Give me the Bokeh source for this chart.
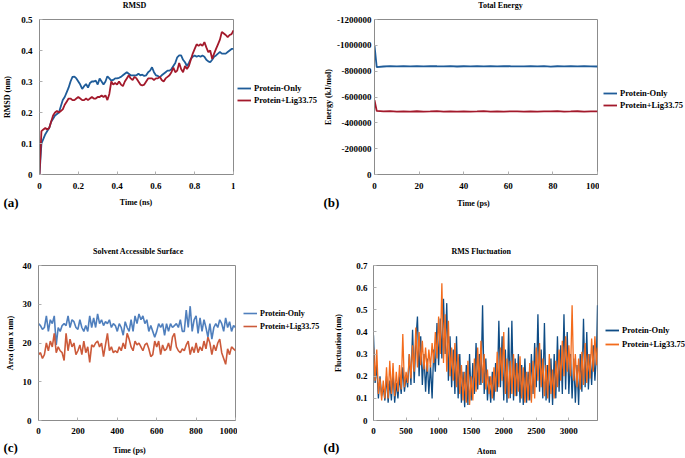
from bokeh.plotting import figure
from bokeh.layouts import column, row
from bokeh.models import Range1d, FixedTicker, Legend, LegendItem, Label
from bokeh.embed import file_html
from bokeh.resources import INLINE

FONT = "Liberation Serif"

# ---------------- (a) RMSD ----------------
rmsd_time = [i / 100 for i in range(101)]
rmsd_protein = [
    0.0, 0.10, 0.115, 0.13, 0.14, 0.15, 0.17, 0.18, 0.19, 0.195,
    0.20, 0.22, 0.24, 0.25, 0.265, 0.28, 0.30, 0.315, 0.316, 0.31,
    0.30, 0.29, 0.276, 0.285, 0.292, 0.28, 0.295, 0.30, 0.30, 0.303,
    0.29, 0.31, 0.30, 0.29, 0.30, 0.317, 0.31, 0.303, 0.305, 0.31,
    0.31, 0.312, 0.315, 0.32, 0.325, 0.33, 0.325, 0.32, 0.32, 0.32,
    0.32, 0.325, 0.32, 0.322, 0.318, 0.32, 0.33, 0.335, 0.346, 0.33,
    0.32, 0.318, 0.314, 0.32, 0.325, 0.33, 0.335, 0.335, 0.34, 0.35,
    0.36, 0.378, 0.384, 0.384, 0.37, 0.362, 0.35, 0.36, 0.373, 0.38,
    0.384, 0.38, 0.383, 0.38, 0.384, 0.38, 0.37, 0.365, 0.362, 0.37,
    0.38, 0.384, 0.39, 0.395, 0.39, 0.39, 0.39, 0.395, 0.40, 0.405,
    0.405]
rmsd_ligand = [
    0.0, 0.14, 0.145, 0.15, 0.145, 0.15, 0.17, 0.19, 0.20, 0.205,
    0.20, 0.205, 0.21, 0.225, 0.235, 0.245, 0.245, 0.24, 0.24, 0.245,
    0.25, 0.245, 0.24, 0.24, 0.245, 0.24, 0.245, 0.25, 0.245, 0.245,
    0.25, 0.25, 0.255, 0.25, 0.255, 0.24, 0.26, 0.30, 0.29, 0.295,
    0.29, 0.30, 0.29, 0.285, 0.30, 0.31, 0.32, 0.31, 0.305, 0.315,
    0.31, 0.30, 0.29, 0.287, 0.29, 0.30, 0.31, 0.31, 0.31, 0.305,
    0.31, 0.31, 0.315, 0.305, 0.30, 0.31, 0.315, 0.32, 0.33, 0.345,
    0.33, 0.335, 0.36, 0.34, 0.33, 0.35, 0.34, 0.35, 0.37, 0.39,
    0.405, 0.42, 0.415, 0.42, 0.415, 0.427, 0.41, 0.395, 0.40, 0.373,
    0.39, 0.405, 0.42, 0.435, 0.46, 0.455, 0.45, 0.443, 0.45, 0.453,
    0.465]
rmsd_xticks = [0, 0.2, 0.4, 0.6, 0.8, 1]
rmsd_xlabels = ["0", "0.2", "0.4", "0.6", "0.8", "1"]
rmsd_yticks = [0, 0.1, 0.2, 0.3, 0.4, 0.5]
rmsd_ylabels = ["0", "0.1", "0.2", "0.3", "0.4", "0.5"]

# ---------------- (b) Total Energy ----------------
energy_time = [0, 1, 4, 7, 10, 13, 16, 19, 22, 25, 28, 31, 34, 37, 40, 43, 46, 49,
               52, 55, 58, 61, 64, 67, 70, 73, 76, 79, 82, 85, 88, 91, 94, 97, 100]
energy_protein = [-998000, -832000, -836000, -839000, -837000, -838500, -836500, -838000,
                  -837000, -839500, -838000, -837000, -838500, -836000, -838000, -837500,
                  -839000, -836500, -838000, -837000, -839000, -838000, -837500, -836500,
                  -838500, -837000, -839000, -835500, -838000, -837500, -839000, -837000,
                  -838500, -837000, -836000]
energy_ligand = [-575000, -492000, -488000, -490000, -486000, -488500, -487000, -489500,
                 -487500, -488000, -490000, -487000, -488500, -486500, -489000, -487500,
                 -488000, -490000, -487000, -488500, -487500, -489000, -488000, -486500,
                 -488500, -487000, -489000, -488000, -490000, -487500, -488000, -489500,
                 -487000, -488500, -488000]
energy_xticks = [0, 20, 40, 60, 80, 100]
energy_yticks = [0, -200000, -400000, -600000, -800000, -1000000, -1200000]
energy_ylabels = ["0", "-200000", "-400000", "-600000", "-800000", "-1000000", "-1200000"]

# ---------------- (c) Solvent Accessible Surface ----------------
sas_time = [10 * i for i in range(101)]
sas_protein = [
    25, 24.5, 23.5, 24, 27, 23, 26, 25, 27, 19.5,
    24, 23, 24.5, 25, 24.5, 27, 24, 26, 25.5, 24,
    23.5, 26, 24, 23, 24.5, 23, 27, 24, 26.5, 24,
    27.5, 25, 26, 24.5, 25.5, 25, 26, 24, 25, 24.5,
    23, 25, 24, 22, 25.5, 24, 23, 26, 23, 27,
    25, 27.5, 26, 27, 25, 26, 23, 24.5, 23, 21.5,
    23, 25, 24, 25, 22, 25, 23, 25, 24, 24.5,
    25, 24, 26, 23, 23, 28.5, 24, 29.5, 23, 26,
    27, 22.5, 26.5, 23, 26, 24, 21.5, 25, 21, 24,
    25, 24, 26, 25, 23, 26.5, 24, 25.5, 23, 24.5,
    24]
sas_ligand = [
    17, 17.5, 16, 17, 20, 18, 20.5, 19, 22.5, 17.5,
    19, 18, 17.5, 15.5, 22.5, 18, 21, 19, 20, 17,
    18, 19.5, 17, 20.5, 17.5, 19, 15, 19.5, 19, 20,
    20.5, 19, 20, 16.5, 19.5, 22.5, 18, 19, 17.5, 18,
    17.5, 19, 18, 20, 18.5, 22.5, 21, 19, 18, 20.5,
    19.5, 20, 19, 18, 19.5, 20, 18.5, 16.5, 17, 20.5,
    19, 20.5, 17, 19.5, 18, 18.5, 20, 18, 21.5, 22.5,
    19, 18, 17.5, 18.5, 18, 19.5, 20.5, 17, 19, 17.5,
    20, 17.5, 19, 18, 20.5, 18.5, 21.5, 20, 17, 19.5,
    18, 20, 21, 17.5, 16, 14.5, 18.5, 17, 19, 18.5,
    18]
sas_xticks = [0, 200, 400, 600, 800, 1000]
sas_yticks = [0, 10, 20, 30, 40]

# ---------------- (d) RMS Fluctuation ----------------
rmsf_atom = list(range(0, 3450, 25)) + [3440]
rmsf_protein = [
    0.385, 0.17, 0.25, 0.10, 0.20, 0.11, 0.15, 0.09, 0.20, 0.08,
    0.18, 0.09, 0.22, 0.08, 0.17, 0.10, 0.20, 0.12, 0.24, 0.13,
    0.20, 0.15, 0.30, 0.16, 0.41, 0.17, 0.36, 0.47, 0.20, 0.38,
    0.16, 0.30, 0.13, 0.28, 0.12, 0.25, 0.10, 0.32, 0.22, 0.44,
    0.25, 0.46, 0.28, 0.55, 0.30, 0.53, 0.18, 0.38, 0.15, 0.32,
    0.12, 0.38, 0.10, 0.30, 0.08, 0.22, 0.06, 0.25, 0.07, 0.30,
    0.09, 0.26, 0.12, 0.35, 0.14, 0.30, 0.16, 0.52, 0.12, 0.28,
    0.09, 0.20, 0.08, 0.22, 0.09, 0.26, 0.13, 0.45, 0.15, 0.38,
    0.09, 0.32, 0.08, 0.42, 0.10, 0.45, 0.09, 0.28, 0.11, 0.30,
    0.08, 0.25, 0.07, 0.28, 0.08, 0.22, 0.09, 0.30, 0.12, 0.35,
    0.15, 0.48, 0.13, 0.32, 0.10, 0.44, 0.09, 0.25, 0.08, 0.28,
    0.07, 0.30, 0.10, 0.38, 0.13, 0.34, 0.12, 0.48, 0.14, 0.40,
    0.12, 0.30, 0.10, 0.28, 0.08, 0.25, 0.07, 0.30, 0.13, 0.46,
    0.15, 0.40, 0.14, 0.30, 0.16, 0.34, 0.18, 0.30, 0.52]
rmsf_ligand = [
    0.33, 0.18, 0.32, 0.12, 0.19, 0.09, 0.18, 0.10, 0.24, 0.10,
    0.27, 0.12, 0.26, 0.11, 0.22, 0.13, 0.25, 0.14, 0.39, 0.15,
    0.22, 0.17, 0.30, 0.19, 0.34, 0.22, 0.42, 0.24, 0.40, 0.25,
    0.36, 0.23, 0.33, 0.22, 0.32, 0.24, 0.35, 0.26, 0.40, 0.28,
    0.47, 0.30, 0.62, 0.26, 0.48, 0.22, 0.45, 0.20, 0.33, 0.18,
    0.35, 0.15, 0.30, 0.12, 0.25, 0.09, 0.22, 0.08, 0.27, 0.07,
    0.20, 0.09, 0.28, 0.13, 0.33, 0.16, 0.36, 0.17, 0.30, 0.14,
    0.23, 0.12, 0.20, 0.10, 0.24, 0.13, 0.31, 0.15, 0.33, 0.18,
    0.40, 0.12, 0.28, 0.10, 0.27, 0.12, 0.30, 0.11, 0.26, 0.13,
    0.29, 0.10, 0.24, 0.08, 0.22, 0.09, 0.26, 0.08, 0.27, 0.10,
    0.33, 0.18, 0.35, 0.15, 0.28, 0.11, 0.25, 0.10, 0.30, 0.12,
    0.23, 0.10, 0.27, 0.15, 0.32, 0.18, 0.36, 0.20, 0.38, 0.22,
    0.34, 0.20, 0.52, 0.18, 0.30, 0.15, 0.28, 0.14, 0.31, 0.16,
    0.35, 0.17, 0.30, 0.19, 0.37, 0.22, 0.38, 0.25, 0.33]
rmsf_xticks = [0, 500, 1000, 1500, 2000, 2500, 3000]
rmsf_yticks = [0, 0.1, 0.2, 0.3, 0.4, 0.5, 0.6, 0.7]
rmsf_ylabels = ["0", "0.1", "0.2", "0.3", "0.4", "0.5", "0.6", "0.7"]

series_names = ["Protein-Only", "Protein+Lig33.75"]
panel_titles = ["RMSD", "Total Energy", "Solvent Accessible Surface", "RMS Fluctuation"]
x_titles = ["Time (ns)", "Time  (ps)", "Time (ps)", "Atom"]
panel_tags = ["(a)", "(b)", "(c)", "(d)"]

COL_DARKBLUE, COL_DARKRED = "#1f5c99", "#a3192b"
COL_BLUE, COL_RED = "#4f7fbd", "#cc5a3a"
COL_NAVY, COL_ORANGE = "#0e4c85", "#f36b1c"

ROW_H = 182


def make_fig(width, left, frame_w, xr, yr):
    p = figure(width=width, height=ROW_H, min_border_left=left,
               min_border_right=width - left - frame_w, min_border_top=7, min_border_bottom=20,
               x_range=xr, y_range=yr, output_backend="svg", toolbar_location=None,
               tools="", title=None)
    p.grid.visible = False
    p.outline_line_color = "#8c8c8c"
    p.outline_line_width = 1
    p.background_fill_color = "white"
    p.border_fill_color = "white"
    for ax in (p.xaxis[0], p.yaxis[0]):
        ax.axis_line_color = "#8c8c8c"
        ax.major_tick_in = 3
        ax.major_tick_out = 0
        ax.minor_tick_in = 0
        ax.minor_tick_out = 0
        ax.major_tick_line_color = "#b0b0b0"
        ax.major_label_text_font = FONT
        ax.major_label_text_font_style = "bold"
        ax.major_label_text_font_size = "9px"
        ax.major_label_text_color = "black"
        ax.axis_label_text_font = FONT
        ax.axis_label_text_font_style = "bold"
        ax.axis_label_text_font_size = "8px"
        ax.axis_label_text_color = "black"
    return p


def set_ticks(axis, ticks, labels=None):
    axis.ticker = FixedTicker(ticks=ticks)
    if labels is not None:
        axis.major_label_overrides = {t: l for t, l in zip(ticks, labels)}


def blank_fig(width, height):
    s = figure(width=width, height=height, x_range=Range1d(-2, -1), y_range=Range1d(0, 1),
               min_border=0, output_backend="svg", toolbar_location=None, tools="",
               x_axis_type=None, y_axis_type=None, title=None)
    s.grid.visible = False
    s.outline_line_color = None
    s.background_fill_color = "white"
    s.border_fill_color = "white"
    return s


def legend_fig(width, xs, series, colors, lw, x, y, spacing, size):
    # the series are drawn outside this figure's visible range; only the legend shows
    s = blank_fig(width, ROW_H)
    rs = [s.line(xs, ys, line_color=c, line_width=lw) for ys, c in zip(series, colors)]
    items = [LegendItem(label=n, renderers=[r]) for n, r in zip(series_names, rs)]
    lg = Legend(items=items, location=(x, y), padding=0, margin=0, spacing=spacing,
                glyph_width=14, glyph_height=10, label_height=10, label_standoff=3,
                label_text_font=FONT, label_text_font_style="bold",
                label_text_font_size=size, label_text_color="black",
                background_fill_alpha=0, border_line_alpha=0)
    s.add_layout(lg)
    return s


def strip_text(s, x, y, text, size, align="center"):
    s.add_layout(Label(x=x, y=y, x_units="screen", y_units="screen", text=text,
                       text_font=FONT, text_font_style="bold", text_font_size=size,
                       text_align=align, text_baseline="middle", text_color="black"))


# (a)
pa = make_fig(235, 38, 195, Range1d(0, 1), Range1d(0, 0.5))
set_ticks(pa.xaxis[0], rmsd_xticks, rmsd_xlabels)
set_ticks(pa.yaxis[0], rmsd_yticks, rmsd_ylabels)
pa.yaxis[0].axis_label = "RMSD (nm)"
pa.xaxis[0].major_label_standoff = 8
pa.yaxis[0].major_label_standoff = 7
pa.yaxis[0].axis_label_standoff = 6
pa.line(rmsd_time, rmsd_protein, line_color=COL_DARKBLUE, line_width=1.8)
pa.line(rmsd_time, rmsd_ligand, line_color=COL_DARKRED, line_width=1.8)
la = legend_fig(85, rmsd_time, [rmsd_protein, rmsd_ligand], [COL_DARKBLUE, COL_DARKRED],
                1.8, 2, 69, 2, "8.5px")

# (b)
pb = make_fig(279, 54, 223, Range1d(0, 100), Range1d(0, -1200000))
set_ticks(pb.xaxis[0], energy_xticks)
set_ticks(pb.yaxis[0], energy_yticks, energy_ylabels)
pb.yaxis[0].axis_label = "Energy (kJ/mol)"
pb.xaxis[0].major_label_standoff = 8
pb.yaxis[0].major_label_standoff = 3
pb.yaxis[0].axis_label_standoff = 1
pb.line(energy_time, energy_protein, line_color=COL_DARKBLUE, line_width=1.8)
pb.line(energy_time, energy_ligand, line_color=COL_DARKRED, line_width=1.8)
lb = legend_fig(86, energy_time, [energy_protein, energy_ligand], [COL_DARKBLUE, COL_DARKRED],
                1.8, 4, 64, 2, "8.5px")

# (c)
pc = make_fig(237, 38, 197, Range1d(0, 1000), Range1d(0, 40))
set_ticks(pc.xaxis[0], sas_xticks)
set_ticks(pc.yaxis[0], sas_yticks)
pc.yaxis[0].axis_label = "Area (nm x nm)"
pc.xaxis[0].major_label_standoff = 7
pc.yaxis[0].major_label_standoff = 7
pc.yaxis[0].axis_label_standoff = 5
pc.line(sas_time, sas_protein, line_color=COL_BLUE, line_width=1.6)
pc.line(sas_time, sas_ligand, line_color=COL_RED, line_width=1.6)
lc = legend_fig(83, sas_time, [sas_protein, sas_ligand], [COL_BLUE, COL_RED],
                1.6, 6, 89, 3, "8px")

# (d)
pd = make_fig(279, 53, 224, Range1d(0, 3440), Range1d(0, 0.7))
set_ticks(pd.xaxis[0], rmsf_xticks)
set_ticks(pd.yaxis[0], rmsf_yticks, rmsf_ylabels)
pd.yaxis[0].axis_label = "Fluctuation (nm)"
pd.xaxis[0].major_label_standoff = 7
pd.yaxis[0].major_label_standoff = 6
pd.yaxis[0].axis_label_standoff = 10
pd.line(rmsf_atom, rmsf_protein, line_color=COL_NAVY, line_width=1.3)
pd.line(rmsf_atom, rmsf_ligand, line_color=COL_ORANGE, line_width=1.3)
ld = legend_fig(86, rmsf_atom, [rmsf_protein, rmsf_ligand], [COL_NAVY, COL_ORANGE],
                1.8, 6, 71, 4, "8.5px")

# strips holding titles, x-axis titles and panel tags
s0 = blank_fig(685, 12)
strip_text(s0, 134, 7, panel_titles[0], "8px")
strip_text(s0, 500, 7, panel_titles[1], "8px")

s1 = blank_fig(685, 64)
strip_text(s1, 3, 56.3, panel_tags[0], "13px", "left")
strip_text(s1, 135.5, 56, x_titles[0], "8px")
strip_text(s1, 323, 56.3, panel_tags[1], "13px", "left")
strip_text(s1, 474, 55.3, x_titles[1], "8px")
strip_text(s1, 137.8, 7, panel_titles[2], "8px")
strip_text(s1, 480.7, 7, panel_titles[3], "8px")

s2 = blank_fig(685, 18)
strip_text(s2, 3, 11.5, panel_tags[2], "13px", "left")
strip_text(s2, 129, 8, x_titles[2], "8px")
strip_text(s2, 323, 11.5, panel_tags[3], "13px", "left")
strip_text(s2, 486, 6.8, x_titles[3], "8px")

layout = column(s0, row(pa, la, pb, lb), s1, row(pc, lc, pd, ld), s2)
open("out.html", "w").write(file_html(layout, INLINE))
